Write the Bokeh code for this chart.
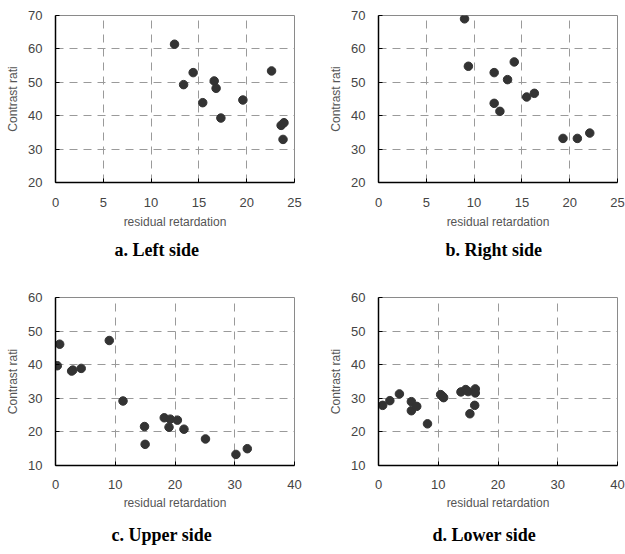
from bokeh.plotting import figure
from bokeh.layouts import column, row
from bokeh.models import Range1d, Title
from bokeh.embed import file_html
from bokeh.resources import INLINE

x_label = "residual retardation"
y_label = "Contrast rati"

captions = ["a. Left side", "b. Right side", "c. Upper side", "d. Lower side"]

left_x = [12.45, 13.4, 14.4, 15.4, 16.6, 16.8, 17.3, 19.6, 22.6, 23.6, 23.9, 23.8]
left_y = [61.4, 49.3, 52.9, 43.9, 50.4, 48.2, 39.3, 44.7, 53.4, 37.1, 37.9, 32.9]

right_x = [9.0, 9.4, 12.1, 12.1, 12.7, 13.5, 14.2, 15.5, 16.3, 19.3, 20.8, 22.1]
right_y = [69.0, 54.8, 52.9, 43.7, 41.3, 50.8, 56.1, 45.6, 46.7, 33.2, 33.2, 34.8]

upper_x = [0.3, 0.7, 2.7, 2.9, 4.3, 9.0, 11.3, 14.9, 15.0, 18.2, 19.2, 19.0, 20.4, 21.5, 25.1, 30.2, 32.1]
upper_y = [39.7, 46.1, 38.1, 38.4, 38.9, 47.2, 29.2, 21.6, 16.3, 24.2, 23.8, 21.4, 23.5, 20.8, 17.9, 13.3, 15.0]

lower_x = [0.7, 1.9, 3.5, 5.5, 5.5, 6.4, 8.2, 10.4, 10.7, 10.9, 13.8, 14.6, 15.0, 16.2, 16.2, 16.1, 15.3]
lower_y = [27.9, 29.3, 31.3, 29.0, 26.3, 27.6, 22.4, 31.1, 30.6, 30.2, 31.9, 32.6, 32.0, 32.8, 31.6, 27.9, 25.4]

ticks_x_top = [0, 5, 10, 15, 20, 25]
ticks_y_top = [20, 30, 40, 50, 60, 70]
ticks_x_bot = [0, 10, 20, 30, 40]
ticks_y_bot = [10, 20, 30, 40, 50, 60]


def panel(xs, ys, xticks, yticks, caption, cap_offset, cap_standoff,
          tick_standoff, lab_standoff, mbl, mbr, mbt, mbb, fh):
    p = figure(frame_width=239, frame_height=fh,
               x_range=Range1d(xticks[0], xticks[-1]),
               y_range=Range1d(yticks[0], yticks[-1]),
               output_backend="svg", toolbar_location=None,
               min_border_left=mbl, min_border_right=mbr,
               min_border_top=mbt, min_border_bottom=mbb,
               background_fill_color="white", border_fill_color="white")
    p.outline_line_color = "#8a8a8a"
    p.outline_line_width = 1
    p.xaxis.ticker = xticks
    p.yaxis.ticker = yticks
    p.grid.grid_line_color = "#9a9a9a"
    p.grid.grid_line_dash = "8 6"
    p.grid.grid_line_width = 1
    p.axis.axis_line_color = "black"
    p.axis.axis_line_width = 1.5
    p.axis.major_tick_in = 4
    p.axis.major_tick_out = 0
    p.axis.major_tick_line_color = "black"
    p.axis.minor_tick_line_color = None
    p.axis.major_label_text_font = "Liberation Sans"
    p.axis.major_label_text_font_size = "13px"
    p.axis.major_label_text_color = "#444444"
    p.axis.axis_label_text_font = "Liberation Sans"
    p.axis.axis_label_text_font_size = "12px"
    p.axis.axis_label_text_font_style = "normal"
    p.axis.axis_label_text_color = "#555555"
    p.xaxis.axis_label = x_label
    p.yaxis.axis_label = y_label
    p.xaxis.major_label_standoff = tick_standoff
    p.xaxis.axis_label_standoff = lab_standoff
    p.yaxis.major_label_standoff = 13
    p.yaxis.axis_label_standoff = 5
    p.scatter(xs, ys, size=8.5, color="#333333")
    t = Title(text=caption, align="left", offset=cap_offset,
              text_font="Liberation Serif", text_font_style="bold",
              text_font_size="18px", text_color="black", standoff=cap_standoff)
    p.add_layout(t, "below")
    return p


pa = panel(left_x, left_y, ticks_x_top, ticks_y_top, captions[0], 59, 12, 15, 5, 55, 23, 15, 98, 167)
pb = panel(right_x, right_y, ticks_x_top, ticks_y_top, captions[1], 67, 12, 15, 5, 61, 8, 15, 98, 167)
pc = panel(upper_x, upper_y, ticks_x_bot, ticks_y_bot, captions[2], 56, 20, 14, 4, 55, 23, 17, 88, 168)
pd = panel(lower_x, lower_y, ticks_x_bot, ticks_y_bot, captions[3], 54, 20, 14, 4, 61, 8, 17, 88, 168)

layout = column(row(pa, pb), row(pc, pd))
open("out.html", "w").write(file_html(layout, INLINE))
